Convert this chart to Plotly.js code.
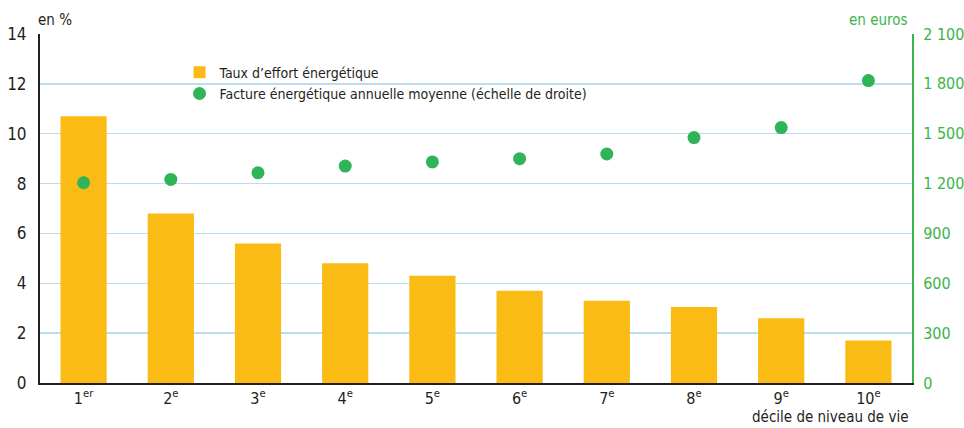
<!DOCTYPE html>
<html><head><meta charset="utf-8">
<script src="https://cdn.plot.ly/plotly-3.0.1.min.js"></script>
<style>body{margin:0;background:#fff}#c{width:964px;height:428px}</style>
</head><body><div id="c"></div>
<script>
const categories = ['1er','2e','3e','4e','5e','6e','7e','8e','9e','10e'];
const tickLabels = ['1<sup>er</sup>','2<sup>e</sup>','3<sup>e</sup>','4<sup>e</sup>','5<sup>e</sup>','6<sup>e</sup>','7<sup>e</sup>','8<sup>e</sup>','9<sup>e</sup>','10<sup>e</sup>'];
const tauxEffort = [10.7, 6.8, 5.6, 4.8, 4.3, 3.7, 3.3, 3.05, 2.6, 1.7];
const factureMoyenne = [1205, 1225, 1265, 1305, 1330, 1350, 1378, 1477, 1537, 1820];
const leftTicks = [0,2,4,6,8,10,12,14];
const rightTicks = [0,300,600,900,1200,1500,1800,2100];
const rightTickText = ['0','300','600','900','1 200','1 500','1 800','2 100'];

const FONT = '"DejaVu Sans Condensed", "Liberation Sans Narrow", "Liberation Sans", Arial, sans-serif';
const DARK = '#231f20';
const GREEN = '#3bb44a';
const YELLOW = '#fbbb15';

const traces = [
  {type:'bar', x:categories, y:tauxEffort, name:'Taux d’effort énergétique',
   marker:{color:YELLOW}, yaxis:'y'},
  {type:'scatter', mode:'markers', x:categories, y:factureMoyenne,
   name:'Facture énergétique annuelle moyenne (échelle de droite)',
   marker:{color:'#2fb457', size:13}, yaxis:'y2'}
];

const layout = {
  width:964, height:428,
  margin:{l:40, r:52, t:34, b:45},
  paper_bgcolor:'#fff', plot_bgcolor:'#fff',
  font:{family:FONT, color:DARK, size:15},
  bargap:0.47,
  showlegend:true,
  legend:{x:0.16, y:0.935, xanchor:'left', yanchor:'top', bgcolor:'rgba(0,0,0,0)',
    font:{family:FONT, size:14, color:DARK}, tracegroupgap:0, itemwidth:30},
  xaxis:{type:'category', range:[-0.5, 9.5], tickvals:categories, ticktext:tickLabels,
    showline:true, linecolor:DARK, linewidth:2, ticks:'', showgrid:false,
    tickfont:{family:FONT, size:16, color:DARK}, zeroline:false},
  yaxis:{range:[0,14], tickvals:leftTicks, showline:true, linecolor:DARK, linewidth:2,
    showgrid:true, gridcolor:'#b9ddf1', gridwidth:1.5, zeroline:false, ticks:'',
    ticklabelstandoff:8, tickfont:{family:FONT, size:17, color:DARK}},
  yaxis2:{range:[0,2100], tickvals:rightTicks, ticktext:rightTickText, overlaying:'y', side:'right',
    showline:true, linecolor:GREEN, linewidth:2, showgrid:false, zeroline:false, ticks:'',
    ticklabelstandoff:6, tickfont:{family:FONT, size:16, color:GREEN}},
  annotations:[
    {text:'en %', xref:'paper', yref:'paper', x:0, y:1, xshift:-4, yshift:3, xanchor:'left', yanchor:'bottom',
     showarrow:false, font:{family:FONT, size:15, color:DARK}},
    {text:'en euros', xref:'paper', yref:'paper', x:1, y:1, xshift:-2, yshift:3, xanchor:'right', yanchor:'bottom',
     showarrow:false, font:{family:FONT, size:15, color:GREEN}},
    {text:'décile de niveau de vie', xref:'paper', yref:'paper', x:1, y:0, xshift:-2, yshift:-45, xanchor:'right', yanchor:'bottom',
     showarrow:false, font:{family:FONT, size:15, color:DARK}}
  ]
};
Plotly.newPlot('c', traces, layout, {displayModeBar:false, staticPlot:true});
</script></body></html>
